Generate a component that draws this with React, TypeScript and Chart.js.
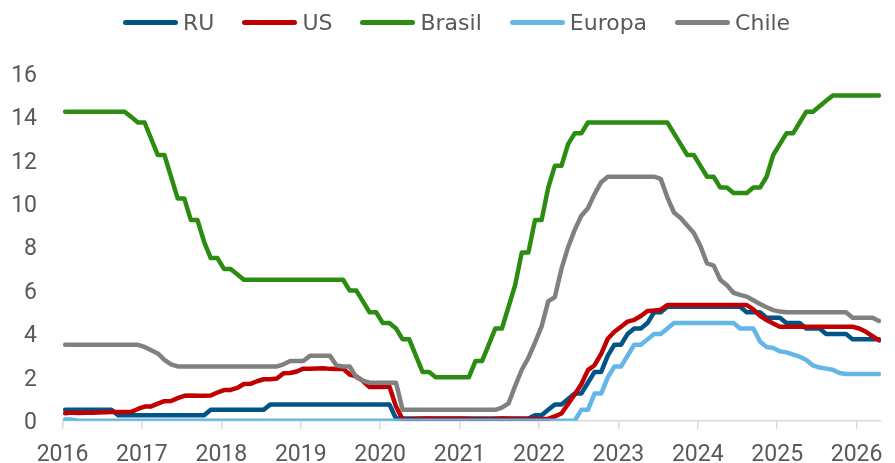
import React, { useEffect, useRef } from "react";
import { Chart, registerables } from "chart.js";

Chart.register(...registerables);

// Monthly observations, Jan 2016 .. Apr 2026 (124 months)
const START_YEAR = 2016;
const X_MAX = 2026.306;

const xTickYears = [2016, 2017, 2018, 2019, 2020, 2021, 2022, 2023, 2024, 2025, 2026];
const yTickValues = [0, 2, 4, 6, 8, 10, 12, 14, 16];

const seriesNames = ["RU", "US", "Brasil", "Europa", "Chile"];
const seriesColors = ["#005587", "#C00000", "#2C8C12", "#64B6E8", "#808080"];

const ru = [
  0.5, 0.5, 0.5, 0.5, 0.5, 0.5, 0.5, 0.5, 0.25, 0.25, 0.25, 0.25,
  0.25, 0.25, 0.25, 0.25, 0.25, 0.25, 0.25, 0.25, 0.25, 0.25, 0.5, 0.5,
  0.5, 0.5, 0.5, 0.5, 0.5, 0.5, 0.5, 0.75, 0.75, 0.75, 0.75, 0.75,
  0.75, 0.75, 0.75, 0.75, 0.75, 0.75, 0.75, 0.75, 0.75, 0.75, 0.75, 0.75,
  0.75, 0.75, 0.1, 0.1, 0.1, 0.1, 0.1, 0.1, 0.1, 0.1, 0.1, 0.1,
  0.1, 0.1, 0.1, 0.1, 0.1, 0.1, 0.1, 0.1, 0.1, 0.1, 0.1, 0.25,
  0.25, 0.5, 0.75, 0.75, 1.0, 1.25, 1.25, 1.75, 2.25, 2.25, 3.0, 3.5,
  3.5, 4.0, 4.25, 4.25, 4.5, 5.0, 5.0, 5.25, 5.25, 5.25, 5.25, 5.25,
  5.25, 5.25, 5.25, 5.25, 5.25, 5.25, 5.25, 5.0, 5.0, 5.0, 4.75, 4.75,
  4.75, 4.5, 4.5, 4.5, 4.25, 4.25, 4.25, 4.0, 4.0, 4.0, 4.0, 3.75,
  3.75, 3.75, 3.75, 3.75,
];

const us = [
  0.34, 0.38, 0.36, 0.37, 0.37, 0.38, 0.39, 0.4, 0.4, 0.4, 0.41, 0.54,
  0.65, 0.66, 0.79, 0.9, 0.91, 1.04, 1.15, 1.16, 1.15, 1.15, 1.16, 1.3,
  1.41, 1.42, 1.51, 1.69, 1.7, 1.82, 1.91, 1.91, 1.95, 2.19, 2.2, 2.27,
  2.4, 2.4, 2.41, 2.42, 2.39, 2.38, 2.4, 2.13, 2.04, 1.83, 1.55, 1.55,
  1.55, 1.58, 0.65, 0.05, 0.05, 0.08, 0.09, 0.1, 0.09, 0.09, 0.09, 0.09,
  0.09, 0.08, 0.07, 0.07, 0.06, 0.08, 0.1, 0.09, 0.08, 0.08, 0.08, 0.08,
  0.08, 0.08, 0.2, 0.33, 0.77, 1.21, 1.68, 2.33, 2.56, 3.08, 3.78, 4.1,
  4.33, 4.57, 4.65, 4.83, 5.06, 5.08, 5.12, 5.33, 5.33, 5.33, 5.33, 5.33,
  5.33, 5.33, 5.33, 5.33, 5.33, 5.33, 5.33, 5.33, 5.13, 4.83, 4.64, 4.48,
  4.33, 4.33, 4.33, 4.33, 4.33, 4.33, 4.33, 4.33, 4.33, 4.33, 4.33, 4.33,
  4.25, 4.1, 3.9, 3.7,
];

const brasil = [
  14.25, 14.25, 14.25, 14.25, 14.25, 14.25, 14.25, 14.25, 14.25, 14.25, 14.0, 13.75,
  13.75, 13.0, 12.25, 12.25, 11.25, 10.25, 10.25, 9.25, 9.25, 8.25, 7.5, 7.5,
  7.0, 7.0, 6.75, 6.5, 6.5, 6.5, 6.5, 6.5, 6.5, 6.5, 6.5, 6.5,
  6.5, 6.5, 6.5, 6.5, 6.5, 6.5, 6.5, 6.0, 6.0, 5.5, 5.0, 5.0,
  4.5, 4.5, 4.25, 3.75, 3.75, 3.0, 2.25, 2.25, 2.0, 2.0, 2.0, 2.0,
  2.0, 2.0, 2.75, 2.75, 3.5, 4.25, 4.25, 5.25, 6.25, 7.75, 7.75, 9.25,
  9.25, 10.75, 11.75, 11.75, 12.75, 13.25, 13.25, 13.75, 13.75, 13.75, 13.75, 13.75,
  13.75, 13.75, 13.75, 13.75, 13.75, 13.75, 13.75, 13.75, 13.25, 12.75, 12.25, 12.25,
  11.75, 11.25, 11.25, 10.75, 10.75, 10.5, 10.5, 10.5, 10.75, 10.75, 11.25, 12.25,
  12.75, 13.25, 13.25, 13.75, 14.25, 14.25, 14.5, 14.75, 15.0, 15.0, 15.0, 15.0,
  15.0, 15.0, 15.0, 15.0,
];

const europa = [
  0.05, 0.05, 0, 0, 0, 0, 0, 0, 0, 0, 0, 0,
  0, 0, 0, 0, 0, 0, 0, 0, 0, 0, 0, 0,
  0, 0, 0, 0, 0, 0, 0, 0, 0, 0, 0, 0,
  0, 0, 0, 0, 0, 0, 0, 0, 0, 0, 0, 0,
  0, 0, 0, 0, 0, 0, 0, 0, 0, 0, 0, 0,
  0, 0, 0, 0, 0, 0, 0, 0, 0, 0, 0, 0,
  0, 0, 0, 0, 0, 0, 0.5, 0.5, 1.25, 1.25, 2.0, 2.5,
  2.5, 3.0, 3.5, 3.5, 3.75, 4.0, 4.0, 4.25, 4.5, 4.5, 4.5, 4.5,
  4.5, 4.5, 4.5, 4.5, 4.5, 4.5, 4.25, 4.25, 4.25, 3.65, 3.4, 3.35,
  3.2, 3.15, 3.05, 2.95, 2.8, 2.55, 2.45, 2.4, 2.35, 2.2, 2.15, 2.15,
  2.15, 2.15, 2.15, 2.15,
];

const chile = [
  3.5, 3.5, 3.5, 3.5, 3.5, 3.5, 3.5, 3.5, 3.5, 3.5, 3.5, 3.5,
  3.4, 3.25, 3.1, 2.8, 2.6, 2.5, 2.5, 2.5, 2.5, 2.5, 2.5, 2.5,
  2.5, 2.5, 2.5, 2.5, 2.5, 2.5, 2.5, 2.5, 2.5, 2.6, 2.75, 2.75,
  2.75, 3.0, 3.0, 3.0, 3.0, 2.55, 2.5, 2.5, 2.0, 1.85, 1.75, 1.75,
  1.75, 1.75, 1.75, 0.5, 0.5, 0.5, 0.5, 0.5, 0.5, 0.5, 0.5, 0.5,
  0.5, 0.5, 0.5, 0.5, 0.5, 0.5, 0.6, 0.8, 1.6, 2.35, 2.9, 3.6,
  4.35, 5.5, 5.7, 7.0, 8.0, 8.8, 9.45, 9.8, 10.45, 11.0, 11.25, 11.25,
  11.25, 11.25, 11.25, 11.25, 11.25, 11.25, 11.15, 10.3, 9.6, 9.35, 9.0, 8.65,
  8.05, 7.25, 7.15, 6.5, 6.25, 5.9, 5.8, 5.72, 5.55, 5.38, 5.23, 5.1,
  5.03, 5.0, 5.0, 5.0, 5.0, 5.0, 5.0, 5.0, 5.0, 5.0, 5.0, 4.75,
  4.75, 4.75, 4.75, 4.6,
];

const seriesValues = [ru, us, brasil, europa, chile];

// observation date of month index i (taken around mid-month)
const monthPos = (i: number) => START_YEAR + (i + 0.4) / 12;

const TEXT_COLOR = "#595959";
const AXIS_COLOR = "#D9D9D9";

export default function App() {
  const canvasRef = useRef<HTMLCanvasElement | null>(null);

  useEffect(() => {
    if (!canvasRef.current) return;
    const tickFont = { family: "Roboto", size: 23, lineHeight: 1.2 };
    const chart = new Chart(canvasRef.current, {
      type: "line",
      data: {
        datasets: seriesNames.map((name, k) => ({
          label: name,
          data: seriesValues[k].map((v, i) => ({ x: monthPos(i), y: v })),
          borderColor: seriesColors[k],
          backgroundColor: seriesColors[k],
          borderWidth: 4.5,
          borderCapStyle: "round" as const,
          borderJoinStyle: "round" as const,
          pointRadius: 0,
          pointHoverRadius: 0,
          tension: 0,
          fill: false,
          order: seriesNames.length - k,
        })),
      },
      options: {
        animation: false,
        responsive: true,
        maintainAspectRatio: false,
        events: [],
        layout: { padding: { top: 73.7, left: 12.5, right: 8, bottom: 0 } },
        plugins: {
          legend: { display: false },
          tooltip: { enabled: false },
        },
        scales: {
          x: {
            type: "linear",
            min: START_YEAR,
            max: X_MAX,
            afterBuildTicks: (s: any) => {
              s.ticks = xTickYears.map((v) => ({ value: v }));
            },
            afterFit: (s: any) => {
              s.height = 42.3;
            },
            ticks: {
              callback: (v: any) => String(v),
              font: tickFont,
              color: TEXT_COLOR,
              padding: 12.3,
              maxRotation: 0,
              autoSkip: false,
            },
            grid: {
              display: true,
              drawOnChartArea: false,
              drawTicks: true,
              tickLength: 8,
              color: AXIS_COLOR,
              lineWidth: 1.5,
            },
            border: { display: true, color: AXIS_COLOR, width: 1.5 },
          },
          y: {
            type: "linear",
            min: 0,
            max: 16,
            afterBuildTicks: (s: any) => {
              s.ticks = yTickValues.map((v) => ({ value: v }));
            },
            afterFit: (s: any) => {
              s.width = 50;
            },
            ticks: {
              font: tickFont,
              color: TEXT_COLOR,
              padding: 25.5,
              labelOffset: 2.5,
            },
            grid: { display: false, drawTicks: false },
            border: { display: false },
          },
        },
      },
    });
    return () => chart.destroy();
  }, []);

  return (
    <div
      style={{
        position: "fixed",
        left: 0,
        top: 0,
        width: "100vw",
        height: "100vh",
        background: "#ffffff",
        overflow: "hidden",
      }}
    >
      <div style={{ position: "absolute", left: 0, top: 0, width: "100%", height: "100%" }}>
        <canvas ref={canvasRef} />
      </div>
      <div
        style={{
          position: "absolute",
          left: 0,
          top: 0,
          width: "100%",
          height: 45,
          display: "flex",
          alignItems: "center",
          paddingLeft: 123,
          boxSizing: "border-box",
          fontFamily: '"DejaVu Sans", sans-serif',
          fontSize: 22,
          color: TEXT_COLOR,
          whiteSpace: "nowrap",
        }}
      >
        {seriesNames.map((name, k) => (
          <div key={name} style={{ display: "flex", alignItems: "center", marginRight: 28 }}>
            <span
              style={{
                display: "inline-block",
                width: 55,
                height: 5,
                borderRadius: 2.5,
                background: seriesColors[k],
                marginRight: 5,
              }}
            />
            <span>{name}</span>
          </div>
        ))}
      </div>
    </div>
  );
}
